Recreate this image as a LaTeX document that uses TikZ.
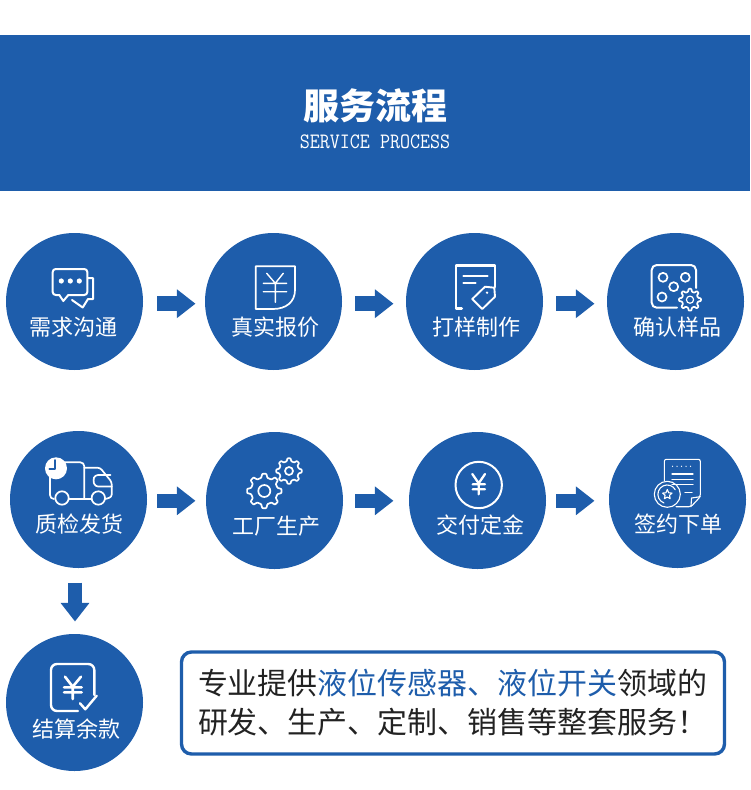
\documentclass[tikz,border=0pt]{standalone}
\usepackage{fontspec}
\setmainfont{Noto Sans CJK SC}
\usetikzlibrary{arrows.meta}
\definecolor{flowblue}{HTML}{1E5DAB}
\definecolor{notegray}{HTML}{222222}
\tikzset{
	stepcircle/.style={circle,fill=flowblue,minimum size=137pt,inner sep=0pt},
	steplabel/.style={text=white,inner sep=0pt,font=\fontsize{22}{24}\selectfont},
	flowarrow/.style={draw=flowblue,line width=14.6pt,line cap=butt,-{Triangle[length=18.6pt,width=27.6pt]}},
	iconline/.style={draw=white,line width=1.7pt,fill=none},
	notebox/.style={draw=flowblue,line width=3.4pt,rounded corners=10pt,fill=white,minimum width=543pt,minimum height=102pt,text width=510pt,inner xsep=16.5pt,inner ysep=0pt,align=left,text=notegray,font=\fontsize{29.95}{39}\selectfont},
}
\newcommand{\gearicon}[5]{
	\begin{scope}[shift={(#1,#2)}]
		\pgfmathsetmacro\gstep{360/#5}
		\draw[iconline,rounded corners=0.6pt] ({-0.3*\gstep}:#4)
			\foreach \i in {1,...,#5}{
				-- ({(\i-1)*\gstep-0.3*\gstep}:#4) -- ({(\i-1)*\gstep-0.15*\gstep}:#3)
				-- ({(\i-1)*\gstep+0.15*\gstep}:#3) -- ({(\i-1)*\gstep+0.3*\gstep}:#4)
			} -- cycle;
	\end{scope}
}
\begin{document}
\begin{tikzpicture}[line join=round,line cap=round,x=1pt,y=-1pt]
	\useasboundingbox (0,0) rectangle (750,790);
	%%Header
	\fill[flowblue] (0,35) rectangle (750,191);
	\node[text=white,inner sep=0pt,font=\fontsize{36}{38}\selectfont\bfseries] (title) at (375,106) {服务流程};
	\node[text=white,inner sep=0pt,font=\fontsize{22}{24}\selectfont\ttfamily,xscale=0.885,transform shape] (subtitle) at (375,142) {SERVICE PROCESS};
	%%Circles
	\foreach \n/\x/\y/\lx/\ly/\t in {
		a/74.5/301.5/73.5/327.3/需求沟通,b/273.5/301.5/275/327.3/真实报价,
		c/474.5/301.5/476.2/327.3/打样制作,d/675.5/301.5/677.2/327.3/确认样品,
		e/78.5/499.5/79.5/524.3/质检发货,f/274.5/500.5/276.2/525.7/工厂生产,
		g/477.5/500.5/480/525/交付定金,h/677.5/499.5/678.8/524/签约下单,
		i/74.5/702.5/76/729/结算余款}{
			\node[stepcircle] (\n) at (\x,\y) {};
			\node[steplabel] (\n label) at (\lx,\ly) {\t};
		}
	%%Arrows
	\draw[flowarrow] ([shift={(14,2.2)}]a.east)--([shift={(-9.3,2.2)}]b.west);
	\draw[flowarrow] ([shift={(13,2.2)}]b.east)--([shift={(-12.3,2.2)}]c.west);
	\draw[flowarrow] ([shift={(13,2.2)}]c.east)--([shift={(-12.3,2.2)}]d.west);
	\draw[flowarrow] ([shift={(10,1.3)}]e.east)--([shift={(-10.3,0.3)}]f.west);
	\draw[flowarrow] ([shift={(12,0.3)}]f.east)--([shift={(-15.3,0.3)}]g.west);
	\draw[flowarrow] ([shift={(10,0.3)}]g.east)--([shift={(-14.3,1.3)}]h.west);
	\draw[flowarrow] ([shift={(-3.5,14.5)}]e.south)--([shift={(0.5,-12.3)}]i.north);
	%%Chat
	\draw[iconline,line width=2pt,rounded corners=3pt] (59.3,295)--(52.7,295)--(52.7,269)--(87.3,269)--(87.3,295)--(68.3,295);
	\draw[iconline,line width=2pt] (59.3,295)--(63.3,301)--(68.3,295);
	\draw[iconline,line width=2pt] (88,278)--(93,278)--(93,299)--(88,299)--(82.7,307.5)--(72,300);
	\foreach \x in {61.3,70.3,79.3}{\fill[white] (\x,281) circle(2.6);}
	%%Quote sheet
	\draw[iconline] (295,266.3)--(255.7,266.3)--(255.7,309)--(273,309) .. controls (286,309) and (295,302) .. (295,290)--cycle;
	\draw[iconline,line width=1.4pt] (266.7,273.3)--(275.3,283.3)--(283.3,273.3) (263.3,283.3)--(286.7,283.3) (263.3,291.7)--(286.7,291.7) (275.3,283.3)--(275.3,302.3);
	%%Form and tag
	\draw[iconline,line width=2.6pt] (461.7,308.3)--(456,308.3)--(456,265.7)--(495,265.7)--(495,287);
	\draw[iconline,line width=2pt] (463.3,275.7)--(487.7,275.7) (463.3,283.3)--(475.7,283.3);
	\draw[iconline,line width=1.9pt] (472.3,299)--(485,286.7)--(494.3,287.7)--(495,296.7)--(482.3,309)--cycle;
	\fill[white] (487,292.7) circle(1.3);
	%%Dice and gear
	\draw[iconline,line width=2pt,rounded corners=5pt] (696,288)--(696,265)--(651.7,265)--(651.7,307.7)--(677,307.7);
	\foreach \x/\y in {663/277.3,685.3/277.3,673.7/286.7,662/297}{\draw[iconline] (\x,\y) circle(4.5);}
	\gearicon{690}{299.7}{11}{8.2}{8}
	\draw[iconline,line width=1.2pt] (690,299.7) circle(3.6);
	%%Truck
	\draw[iconline,rounded corners=4pt] (54,499)--(50,499)--(50,462.3)--(84.3,462.3)--(84.3,499);
	\draw[iconline] (69,499)--(91.5,499);
	\draw[iconline,rounded corners=2.5pt] (84.3,467.7)--(100,467.7)--(111.7,482)--(111.7,497)--(105.5,499);
	\draw[iconline,rounded corners=3pt] (110.5,475)--(95,475)--(93,480)--(95,486.5)--(111.7,486.5);
	\draw[iconline] (62,498) circle(6.7) (98.3,498) circle(6.7);
	\fill[white] (56,468.3) circle(11);
	\draw[flowblue,line width=1.6pt] (55,460)--(55,469)--(49.3,469);
	%%Gears
	\gearicon{264.3}{491}{17.3}{13.5}{8}
	\draw[iconline] (264.3,491) circle(6);
	\gearicon{289}{471}{12.8}{10}{8}
	\draw[iconline] (289,471) circle(4);
	%%Yen coin
	\draw[iconline,line width=2pt] (478.7,485) circle(23.2);
	\draw[iconline,line width=2.3pt] (472.3,474)--(478.7,483.3)--(485,474) (472.7,484.3)--(485,484.3) (472.7,489.3)--(485,489.3) (478.7,483.3)--(478.7,494.3);
	%%Contract
	\draw[iconline,line width=1.1pt,rounded corners=2pt] (664.3,481)--(664.3,459.3)--(700.3,459.3)--(700.3,496.7)--(691,506.7)--(676,506.7);
	\draw[iconline,line width=1.1pt] (700.3,496.7)--(691.5,498)--(691,506.7);
	\foreach \x in {672.5,677,681.5,686,690.5}{\fill[white] (\x,466.3) circle(0.7);}
	\draw[iconline,line width=1.1pt] (672,474)--(693,474) (672,479.3)--(693,479.3) (672,484.3)--(693,484.3) (685,492.7)--(692,492.7);
	\draw[iconline,line width=1.1pt] (667.3,494.3) circle(13);
	\draw[iconline,line width=1.1pt] (664,503) arc(110:330:9.3);
	\draw[iconline,line width=1.1pt] (667.3,489.5)--(668.7,492.8)--(672,493.1)--(669.5,495.3)--(670.2,498.7)--(667.3,497)--(664.4,498.7)--(665.1,495.3)--(662.6,493.1)--(665.9,492.8)--cycle;
	%%Yen check
	\draw[iconline,line width=2.4pt,rounded corners=6pt] (94.3,695)--(94.3,664)--(51,664)--(51,711)--(78,711);
	\draw[iconline,line width=2.4pt] (80,703.3)--(85.3,709.3)--(96.7,695.7);
	\draw[iconline,line width=2.6pt] (65,676.7)--(72.7,686.7)--(81,676.7) (64,687.3)--(81.7,687.3) (64,692.3)--(81.7,692.3) (72.7,686.7)--(72.7,699);
	%%Note
	\node[notebox] (note) at (453,703) {专业提供{\color{flowblue}液位传感器、液位开关}领域的\\研发、生产、定制、销售等整套服务！};
\end{tikzpicture}
\end{document}
